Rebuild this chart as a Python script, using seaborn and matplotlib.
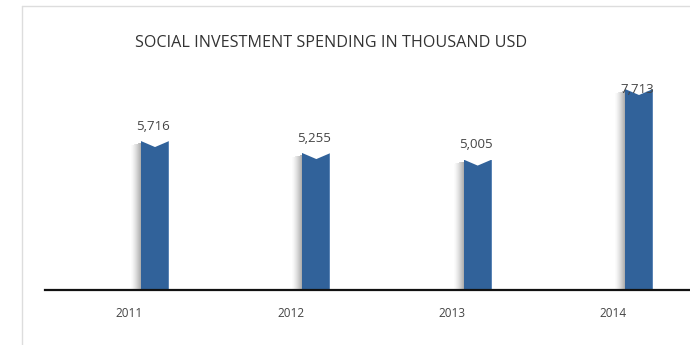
import matplotlib
matplotlib.use("Agg")
import matplotlib.pyplot as plt
from matplotlib.patches import Rectangle, Polygon
from matplotlib.lines import Line2D
import seaborn as sns
import pandas as pd

years = ["2011", "2012", "2013", "2014"]
spending = [5716, 5255, 5005, 7713]
title = "SOCIAL INVESTMENT SPENDING IN THOUSAND USD"

sns.set_theme(style="white")
plt.rcParams["font.family"] = ["Open Sans", "DejaVu Sans"]

BLUE = "#31629a"
DPI = 100
fig = plt.figure(figsize=(6.9, 3.45), dpi=DPI)
ax = fig.add_axes([0.0652, 0.1594, 0.9348, 0.5826])

df = pd.DataFrame({"year": years, "value": spending})
sns.barplot(data=df, x="year", y="value", order=years, color=BLUE,
            saturation=1, width=0.174, linewidth=0, ax=ax, zorder=3)

ax.set_xlim(-0.682, 3.316)
ymax = max(spending)
ax.set_ylim(0, ymax)
for s in ["top", "right", "left"]:
    ax.spines[s].set_visible(False)
ax.spines["bottom"].set_color("#111111")
ax.spines["bottom"].set_linewidth(1.6)
ax.spines["bottom"].set_zorder(6)
ax.set_yticks([])
ax.set_xlabel("")
ax.set_ylabel("")

# category labels sit slightly left of the bars
ax.set_xticks([i - 0.16 for i in range(len(years))])
ax.set_xticklabels(years, fontsize=8.5, color="#444444")
ax.tick_params(axis="x", length=0, pad=12)

# per-pixel sizes in data units
px_x = (ax.get_xlim()[1] - ax.get_xlim()[0]) / (ax.get_position().width * fig.get_figwidth() * DPI)
px_y = ymax / (ax.get_position().height * fig.get_figheight() * DPI)

for patch, v in zip(ax.patches, spending):
    x0 = patch.get_x()
    w = patch.get_width()
    h = patch.get_height()
    # thin lighter edge on the right side of the bar
    ax.add_patch(Rectangle((x0 + w - px_x, 0), px_x, h, facecolor="#5a84b5",
                           edgecolor="none", zorder=3.5))
    # soft shadow to the left of each bar
    n = 10
    for k in range(n):
        t = k / (n - 1)
        g = 0.985 - 0.3 * t ** 1.3
        ax.add_patch(Rectangle((x0 - (n - k) * px_x, 0), px_x * 1.05,
                               h - (4 - 2 * t) * px_y,
                               facecolor=(g, g, g), edgecolor="none", zorder=2))
    # chevron notch cut into the bar top
    notch = 6 * px_y
    ax.add_patch(Polygon([(x0 - 0.5 * px_x, h + px_y), (x0, h),
                          (x0 + w / 2, h - notch),
                          (x0 + w, h), (x0 + w + 0.5 * px_x, h + px_y)],
                         closed=True, facecolor="white", edgecolor="none", zorder=4))
    # value label
    ly = min(v + 15 * px_y, ymax)
    ax.text(x0 + w / 2 - 2 * px_x, ly, f"{v:,}", ha="center", va="center",
            fontsize=9.5, color="#444444", zorder=5, clip_on=False)

fig.text(135 / 690, 1 - 43 / 345, title, ha="left", va="center",
         fontsize=11.6, color="#333333")

# light frame lines
fig.add_artist(Line2D([22 / 690, 1], [1 - 6 / 345, 1 - 6 / 345],
                      transform=fig.transFigure, color="#dddddd", lw=1))
fig.add_artist(Line2D([22 / 690, 22 / 690], [0, 1 - 6 / 345],
                      transform=fig.transFigure, color="#dddddd", lw=1))

fig.savefig("out.png", dpi=DPI, facecolor="white")
